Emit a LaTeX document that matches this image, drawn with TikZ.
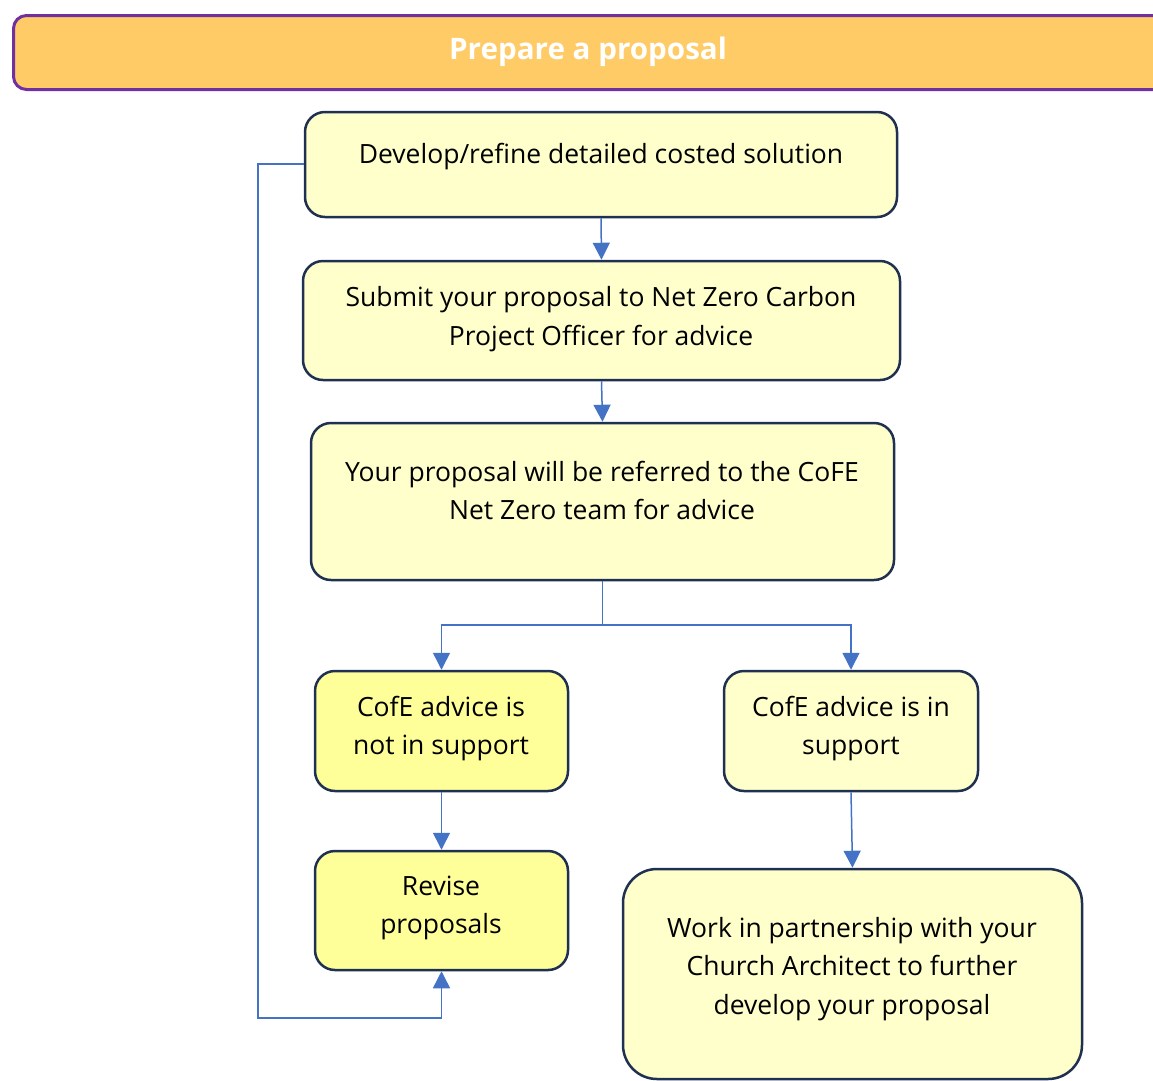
\documentclass[tikz,border=0pt]{standalone}
\usepackage{fontspec}
\setmainfont{Open Sans}
\usetikzlibrary{arrows.meta}
\definecolor{hdrfill}{HTML}{FECB66}
\definecolor{hdrline}{HTML}{7030A0}
\definecolor{paleY}{HTML}{FFFFCC}
\definecolor{brightY}{HTML}{FFFF99}
\definecolor{navy}{HTML}{1F3050}
\definecolor{arrowblue}{HTML}{4472C4}
\tikzset{
  box/.style={draw=navy, line width=2.5pt, rounded corners=20pt, fill=paleY, inner sep=0pt},
  boxB/.style={box, fill=brightY},
  txt/.style={font=\fontsize{26.5}{38.8}\selectfont, align=center, text=black, inner sep=0pt},
  conn/.style={draw=arrowblue, line width=1.5pt, -{Triangle[width=17pt,length=17pt]}},
  plain/.style={draw=arrowblue, line width=1.5pt},
}
\begin{document}
\begin{tikzpicture}[x=1pt,y=-1pt]
\useasboundingbox[fill=white] (0,0) rectangle (1153,1080);
% header
\node[draw=hdrline, line width=3pt, rounded corners=13pt, fill=hdrfill, minimum width=1170pt, minimum height=74pt, anchor=north west, inner sep=0pt] (hdr) at (12,14) {};
\node[font=\fontsize{29.6}{34}\selectfont\bfseries, text=white, inner sep=0pt] (hdrt) at (588,52) {Prepare a proposal};
% boxes
\node[box, minimum width=592pt, minimum height=105pt] (b1) at (601,164.5) {};
\node[txt] (t1) at (601,157) {Develop/refine detailed costed solution};
\node[box, minimum width=597pt, minimum height=119pt] (b2) at (601.5,320.5) {};
\node[txt] (t2) at (601,319) {Submit your proposal to Net Zero Carbon\\Project Officer for advice};
\node[box, minimum width=583pt, minimum height=157pt] (b3) at (602.5,501.5) {};
\node[txt] (t3) at (602,490.5) {Your proposal will be referred to the CoFE\\Net Zero team for advice};
\node[boxB, minimum width=253pt, minimum height=120pt] (b4) at (441.5,731) {};
\node[txt] (t4) at (441,728.5) {CofE advice is\\not in support};
\node[box, minimum width=254pt, minimum height=120pt] (b5) at (851,731) {};
\node[txt] (t5) at (851,728.5) {CofE advice is in\\support};
\node[boxB, minimum width=253pt, minimum height=119pt] (b6) at (441.5,910.5) {};
\node[txt] (t6) at (441,908) {Revise\\proposals};
\node[box, rounded corners=34pt, minimum width=459pt, minimum height=210pt] (b7) at (852.5,974) {};
\node[txt] (t7) at (852,969) {Work in partnership with your\\Church Architect to further\\develop your proposal};
% connectors
\draw[conn] (b1.south) -- (b2.north);
\draw[conn] (b2.south) -- (b3.north);
\coordinate (split) at (b3.south |- 0,625);
\draw[plain] (b3.south) -- (split);
\draw[conn] (split) -| (b4.north);
\draw[conn] (split) -| (b5.north);
\draw[conn] (b4.south) -- (b6.north);
\draw[conn] (b5.south) -- (b7.north);
\coordinate (loopL) at (258,164);
\coordinate (loopB) at (258,1018);
\draw[conn] (b1.west |- 0,164) -- (loopL) -- (loopB) -| (b6.south);
\end{tikzpicture}
\end{document}
